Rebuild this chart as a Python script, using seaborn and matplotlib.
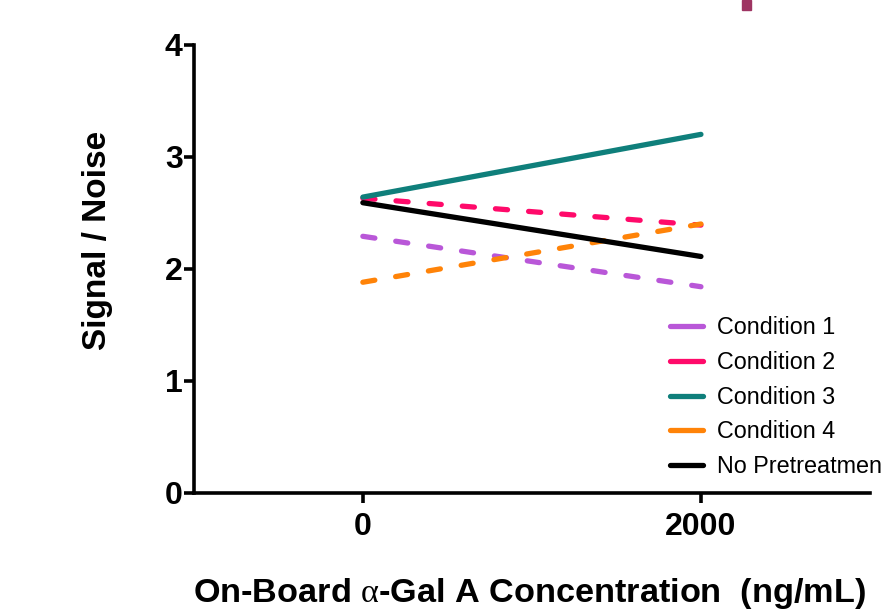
import matplotlib
matplotlib.use("Agg")
import matplotlib.pyplot as plt
import seaborn as sns
import pandas as pd

# values
concentrations = [0, 2000]
series_names = ["Condition 1", "Condition 2", "Condition 3", "Condition 4", "No Pretreatment"]
cond1 = [2.29, 1.84]
cond2 = [2.63, 2.39]
cond3 = [2.64, 3.20]
cond4 = [1.88, 2.40]
no_pre = [2.59, 2.11]

colors = {"Condition 1": "#b957d8", "Condition 2": "#ff0a6a", "Condition 3": "#0f7f7b",
          "Condition 4": "#ff8308", "No Pretreatment": "#000000"}
dash_map = {"Condition 1": (2.3, 4.0), "Condition 2": (2.3, 4.0), "Condition 3": "",
            "Condition 4": (2.3, 4.0), "No Pretreatment": ""}

rows = []
for name, vals in zip(series_names, [cond1, cond2, cond3, cond4, no_pre]):
    for c, v in zip(concentrations, vals):
        rows.append({"conc": c, "sn": v, "series": name})
df = pd.DataFrame(rows)

sns.set_style("ticks")
plt.rcParams["font.family"] = ["Liberation Sans", "DejaVu Sans"]
plt.rcParams["mathtext.fontset"] = "custom"
plt.rcParams["mathtext.rm"] = "Liberation Serif"
for key in ["text.color", "axes.labelcolor", "xtick.color", "ytick.color", "axes.edgecolor"]:
    plt.rcParams[key] = "black"

fig = plt.figure(figsize=(8.81, 6.13), dpi=100)
ax = fig.add_axes([0.220, 0.196, 0.7675, 0.731])

sns.lineplot(data=df, x="conc", y="sn", hue="series", style="series",
             palette=colors, dashes=dash_map, linewidth=3.8, ax=ax,
             legend=False, solid_capstyle="round", dash_capstyle="round")

ax.set_xlim(-1000, 3000)
ax.set_ylim(0, 4)
ax.set_xticks([0, 2000])
ax.set_yticks([0, 1, 2, 3, 4])
sns.despine(ax=ax)
for side in ["left", "bottom"]:
    ax.spines[side].set_linewidth(2.6)
ax.tick_params(width=2.6, length=7, labelsize=23)
ax.tick_params(axis="x", pad=7)
ax.tick_params(axis="y", pad=1)
for lab in ax.get_xticklabels() + ax.get_yticklabels():
    lab.set_fontweight("bold")

ax.set_xlabel(r"On-Board $\mathrm{\alpha}$-Gal A Concentration  (ng/mL)",
              fontsize=24.7, fontweight="bold")
ax.set_ylabel("Signal / Noise", fontsize=24, fontweight="bold")
ax.xaxis.set_label_coords(0.496, -0.185)
ax.yaxis.set_label_coords(-0.12, 0.564)

handles = [plt.Line2D([], [], color=colors[n], linewidth=3.8,
                      linestyle="-", solid_capstyle="round") for n in series_names]
ax.legend(handles, series_names, loc="center left", bbox_to_anchor=(0.737, 0.352),
          bbox_transform=fig.transFigure, frameon=False, fontsize=16.8,
          handlelength=1.4, handletextpad=0.6, labelspacing=0.5)

# small mark at the top edge in the reference
fig.patches.append(plt.Rectangle((742 / 881, 1 - 10 / 613), 9 / 881, 10 / 613,
                                 transform=fig.transFigure, color="#9e3462"))

fig.savefig("out.png", dpi=100)
